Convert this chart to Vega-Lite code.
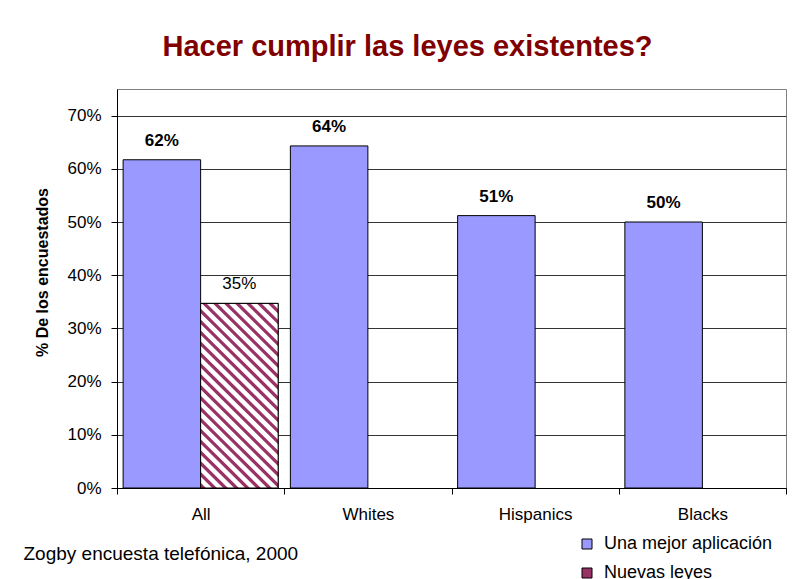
{
  "$schema": "https://vega.github.io/schema/vega-lite/v6.json",
  "width": 669,
  "height": 399,
  "autosize": {"type": "none"},
  "padding": {"left": 117, "top": 89, "right": 10, "bottom": 91},
  "background": "white",
  "title": {
    "text": "Hacer cumplir las leyes existentes?",
    "fontSize": 29,
    "fontWeight": "bold",
    "color": "#800000",
    "anchor": "middle",
    "dx": -44,
    "offset": 4,
    "baseline": "alphabetic"
  },
  "data": {
    "values": [
      {"grupo": "All", "serie": "Una mejor aplicación", "valor": 0.617},
      {"grupo": "All", "serie": "Nuevas leyes", "valor": 0.347},
      {"grupo": "Whites", "serie": "Una mejor aplicación", "valor": 0.643},
      {"grupo": "Hispanics", "serie": "Una mejor aplicación", "valor": 0.512},
      {"grupo": "Blacks", "serie": "Una mejor aplicación", "valor": 0.5}
    ]
  },
  "encoding": {
    "x": {
      "field": "grupo",
      "type": "nominal",
      "sort": ["All", "Whites", "Hispanics", "Blacks"],
      "scale": {"paddingInner": 0, "paddingOuter": 0},
      "axis": {
        "title": "Zogby encuesta telefónica, 2000",
        "titleX": -94,
        "titleY": 71,
        "titleAlign": "left",
        "titleBaseline": "alphabetic",
        "titleFontWeight": "normal",
        "titleFontSize": 19,
        "labelAngle": 0,
        "labelFontSize": 17,
        "labelPadding": 12,
        "tickSize": 6,
        "tickBand": "extent",
        "domainColor": "black",
        "tickColor": "black",
        "grid": false
      }
    },
    "xOffset": {
      "field": "serie",
      "type": "nominal",
      "scale": {
        "domain": ["Una mejor aplicación", "Nuevas leyes"],
        "paddingInner": 0,
        "paddingOuter": 0.079
      }
    },
    "y": {
      "field": "valor",
      "type": "quantitative",
      "scale": {"domain": [0, 0.75], "nice": false},
      "axis": {
        "format": ".0%",
        "values": [0, 0.1, 0.2, 0.3, 0.4, 0.5, 0.6, 0.7],
        "tickSize": 6,
        "tickColor": "black",
        "domainColor": "black",
        "labelFontSize": 17,
        "labelPadding": 10,
        "gridColor": "#333333",
        "title": "% De los encuestados",
        "titleFontSize": 16,
        "titleFontWeight": "bold",
        "titleX": -75,
        "titleY": 183,
        "titleAngle": 270,
        "titleAlign": "center",
        "titleBaseline": "middle"
      }
    }
  },
  "layer": [
    {
      "mark": {"type": "bar", "stroke": "black", "strokeWidth": 1},
      "encoding": {
        "color": {
          "field": "serie",
          "type": "nominal",
          "scale": {
            "domain": ["Una mejor aplicación", "Nuevas leyes"],
            "range": ["#9999FF", "#993366"]
          },
          "legend": {
            "orient": "none",
            "legendX": 461,
            "legendY": 446,
            "title": null,
            "labelFontSize": 18,
            "labelLimit": 400,
            "labelColor": "black",
            "symbolType": "square",
            "symbolSize": 100,
            "symbolStrokeColor": "black",
            "symbolStrokeWidth": 1,
            "symbolOpacity": 1,
            "rowPadding": 11,
            "labelOffset": 8,
            "direction": "vertical"
          }
        }
      }
    },
    {
      "transform": [{"filter": "datum.serie === 'Nuevas leyes'"}],
      "mark": {
        "type": "bar",
        "stroke": "black",
        "strokeWidth": 1,
        "fill": {
          "gradient": "linear",
          "x1": 0, "y1": 1, "x2": 0.502, "y2": -0.207,
          "stops": [
            {"offset": 0, "color": "white"}, {"offset": 0.005, "color": "#993366"}, {"offset": 0.0175, "color": "#993366"}, {"offset": 0.0225, "color": "white"},
            {"offset": 0.0417, "color": "white"}, {"offset": 0.0467, "color": "#993366"}, {"offset": 0.0592, "color": "#993366"}, {"offset": 0.0642, "color": "white"},
            {"offset": 0.0833, "color": "white"}, {"offset": 0.0883, "color": "#993366"}, {"offset": 0.1008, "color": "#993366"}, {"offset": 0.1058, "color": "white"},
            {"offset": 0.125, "color": "white"}, {"offset": 0.13, "color": "#993366"}, {"offset": 0.1425, "color": "#993366"}, {"offset": 0.1475, "color": "white"},
            {"offset": 0.1667, "color": "white"}, {"offset": 0.1717, "color": "#993366"}, {"offset": 0.1842, "color": "#993366"}, {"offset": 0.1892, "color": "white"},
            {"offset": 0.2083, "color": "white"}, {"offset": 0.2133, "color": "#993366"}, {"offset": 0.2258, "color": "#993366"}, {"offset": 0.2308, "color": "white"},
            {"offset": 0.25, "color": "white"}, {"offset": 0.255, "color": "#993366"}, {"offset": 0.2675, "color": "#993366"}, {"offset": 0.2725, "color": "white"},
            {"offset": 0.2917, "color": "white"}, {"offset": 0.2967, "color": "#993366"}, {"offset": 0.3092, "color": "#993366"}, {"offset": 0.3142, "color": "white"},
            {"offset": 0.3333, "color": "white"}, {"offset": 0.3383, "color": "#993366"}, {"offset": 0.3508, "color": "#993366"}, {"offset": 0.3558, "color": "white"},
            {"offset": 0.375, "color": "white"}, {"offset": 0.38, "color": "#993366"}, {"offset": 0.3925, "color": "#993366"}, {"offset": 0.3975, "color": "white"},
            {"offset": 0.4167, "color": "white"}, {"offset": 0.4217, "color": "#993366"}, {"offset": 0.4342, "color": "#993366"}, {"offset": 0.4392, "color": "white"},
            {"offset": 0.4583, "color": "white"}, {"offset": 0.4633, "color": "#993366"}, {"offset": 0.4758, "color": "#993366"}, {"offset": 0.4808, "color": "white"},
            {"offset": 0.5, "color": "white"}, {"offset": 0.505, "color": "#993366"}, {"offset": 0.5175, "color": "#993366"}, {"offset": 0.5225, "color": "white"},
            {"offset": 0.5417, "color": "white"}, {"offset": 0.5467, "color": "#993366"}, {"offset": 0.5592, "color": "#993366"}, {"offset": 0.5642, "color": "white"},
            {"offset": 0.5833, "color": "white"}, {"offset": 0.5883, "color": "#993366"}, {"offset": 0.6008, "color": "#993366"}, {"offset": 0.6058, "color": "white"},
            {"offset": 0.625, "color": "white"}, {"offset": 0.63, "color": "#993366"}, {"offset": 0.6425, "color": "#993366"}, {"offset": 0.6475, "color": "white"},
            {"offset": 0.6667, "color": "white"}, {"offset": 0.6717, "color": "#993366"}, {"offset": 0.6842, "color": "#993366"}, {"offset": 0.6892, "color": "white"},
            {"offset": 0.7083, "color": "white"}, {"offset": 0.7133, "color": "#993366"}, {"offset": 0.7258, "color": "#993366"}, {"offset": 0.7308, "color": "white"},
            {"offset": 0.75, "color": "white"}, {"offset": 0.755, "color": "#993366"}, {"offset": 0.7675, "color": "#993366"}, {"offset": 0.7725, "color": "white"},
            {"offset": 0.7917, "color": "white"}, {"offset": 0.7967, "color": "#993366"}, {"offset": 0.8092, "color": "#993366"}, {"offset": 0.8142, "color": "white"},
            {"offset": 0.8333, "color": "white"}, {"offset": 0.8383, "color": "#993366"}, {"offset": 0.8508, "color": "#993366"}, {"offset": 0.8558, "color": "white"},
            {"offset": 0.875, "color": "white"}, {"offset": 0.88, "color": "#993366"}, {"offset": 0.8925, "color": "#993366"}, {"offset": 0.8975, "color": "white"},
            {"offset": 0.9167, "color": "white"}, {"offset": 0.9217, "color": "#993366"}, {"offset": 0.9342, "color": "#993366"}, {"offset": 0.9392, "color": "white"},
            {"offset": 0.9583, "color": "white"}, {"offset": 0.9633, "color": "#993366"}, {"offset": 0.9758, "color": "#993366"}, {"offset": 0.9808, "color": "white"},
            {"offset": 1, "color": "white"}
          ]
        }
      },
      "encoding": {}
    },
    {
      "transform": [{"filter": "datum.serie === 'Una mejor aplicación'"}],
      "mark": {"type": "text", "fontWeight": "bold", "fontSize": 17, "dy": -14, "baseline": "alphabetic", "color": "black"},
      "encoding": {"text": {"field": "valor", "type": "quantitative", "format": ".0%"}}
    },
    {
      "transform": [{"filter": "datum.serie === 'Nuevas leyes'"}],
      "mark": {"type": "text", "fontWeight": "normal", "fontSize": 17, "dy": -14, "baseline": "alphabetic", "color": "black"},
      "encoding": {"text": {"field": "valor", "type": "quantitative", "format": ".0%"}}
    }
  ],
  "config": {
    "font": "Liberation Sans",
    "view": {"stroke": "#808080"},
    "axis": {"labelColor": "black", "titleColor": "black"}
  }
}
